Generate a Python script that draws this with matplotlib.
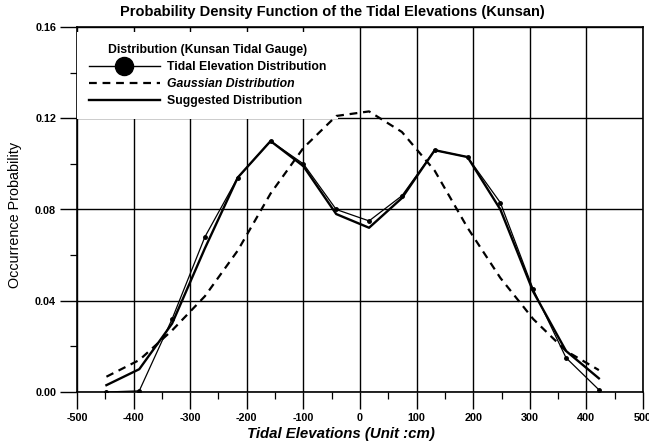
import matplotlib
matplotlib.use('Agg')
import matplotlib.pyplot as plt
from matplotlib.lines import Line2D
from matplotlib.ticker import MultipleLocator

plt.rcParams['font.family'] = ['Liberation Sans', 'DejaVu Sans']
plt.rcParams['axes.unicode_minus'] = False

# ---- data ----
elevation = [-448, -390, -332, -274, -216, -158, -100, -42, 16, 74, 132, 190, 248, 306, 364, 422]
tidal_dist = [0.000, 0.0005, 0.032, 0.068, 0.094, 0.110, 0.100, 0.080, 0.075, 0.086,
              0.106, 0.103, 0.083, 0.045, 0.015, 0.001]
gauss_dist = [0.0067, 0.014, 0.027, 0.042, 0.062, 0.087, 0.107, 0.121, 0.123, 0.114,
              0.097, 0.072, 0.050, 0.032, 0.018, 0.0096]
suggest_dist = [0.003, 0.010, 0.030, 0.063, 0.094, 0.110, 0.099, 0.078, 0.072, 0.085,
                0.106, 0.103, 0.080, 0.044, 0.018, 0.006]

x_ticks = [-500, -400, -300, -200, -100, 0, 100, 200, 300, 400, 500]
x_tick_labels = ['-500', '-400', '-300', '-200', '-100', '0', '100', '200', '300', '400', '500']
y_ticks = [0.00, 0.04, 0.08, 0.12, 0.16]
y_tick_labels = ['0.00', '0.04', '0.08', '0.12', '0.16']

title = 'Probability Density Function of the Tidal Elevations (Kunsan)'
x_label = 'Tidal Elevations (Unit :cm)'
y_label = 'Occurrence Probability'
legend_title = 'Distribution (Kunsan Tidal Gauge)'
labels = ['Tidal Elevation Distribution', 'Gaussian Distribution', 'Suggested Distribution']

# ---- figure ----
W, H = 649, 444
fig = plt.figure(figsize=(W / 100, H / 100), dpi=100)
ax = fig.add_axes([77 / W, 52 / H, 566 / W, 365 / H])

ax.plot(elevation, tidal_dist, color='black', lw=0.9, marker='o', markersize=2.5, zorder=4)
ax.plot(elevation, gauss_dist, color='black', lw=1.6, dashes=(3.5, 2.6), zorder=4)
ax.plot(elevation, suggest_dist, color='black', lw=1.7, zorder=4)

ax.set_xlim(-500, 500)
ax.set_ylim(0.0, 0.16)
ax.set_xticks(x_ticks)
ax.set_xticklabels(x_tick_labels)
ax.set_yticks(y_ticks)
ax.set_yticklabels(y_tick_labels)
ax.xaxis.set_minor_locator(MultipleLocator(50))
ax.yaxis.set_minor_locator(MultipleLocator(0.02))
ax.tick_params(which='major', direction='out', length=12, width=1.0, pad=3,
               labelsize=7.8)
ax.tick_params(which='minor', direction='out', length=5, width=0.9)
for t in ax.get_xticklabels() + ax.get_yticklabels():
    t.set_fontweight('bold')

ax.grid(True, which='major', color='black', lw=1.0, zorder=1)
ax.set_axisbelow(True)
for s in ax.spines.values():
    s.set_linewidth(1.2)

fig.text(332 / W, 1 - 12 / H, title, ha='center', va='center',
         fontsize=10.5, fontweight='bold')
fig.text(341 / W, 1 - 434 / H, x_label, ha='center', va='center',
         fontsize=10.8, fontweight='bold', style='italic')
fig.text(15 / W, 1 - 215 / H, y_label, ha='center', va='center', rotation=90,
         fontsize=10.4)

handles = [
    Line2D([], [], color='black', lw=1.0, marker='o', markersize=13),
    Line2D([], [], color='black', lw=1.6, dashes=(3.5, 2.6)),
    Line2D([], [], color='black', lw=1.7),
]
leg = ax.legend(handles, labels, title=legend_title, loc='upper left',
                bbox_to_anchor=(0.0, 0.985), borderaxespad=0.0,
                fontsize=8.8, title_fontsize=8.8, handlelength=5.8,
                handletextpad=0.6, labelspacing=0.42, borderpad=0.95,
                frameon=True, fancybox=False, framealpha=1.0)
leg.get_frame().set_edgecolor('none')
leg.get_frame().set_facecolor('white')
leg.set_zorder(3)
for i, t in enumerate(leg.get_texts()):
    t.set_fontweight('bold')
    if i == 1:
        t.set_style('italic')
leg.get_title().set_fontweight('bold')

fig.savefig('out.png', dpi=100)
